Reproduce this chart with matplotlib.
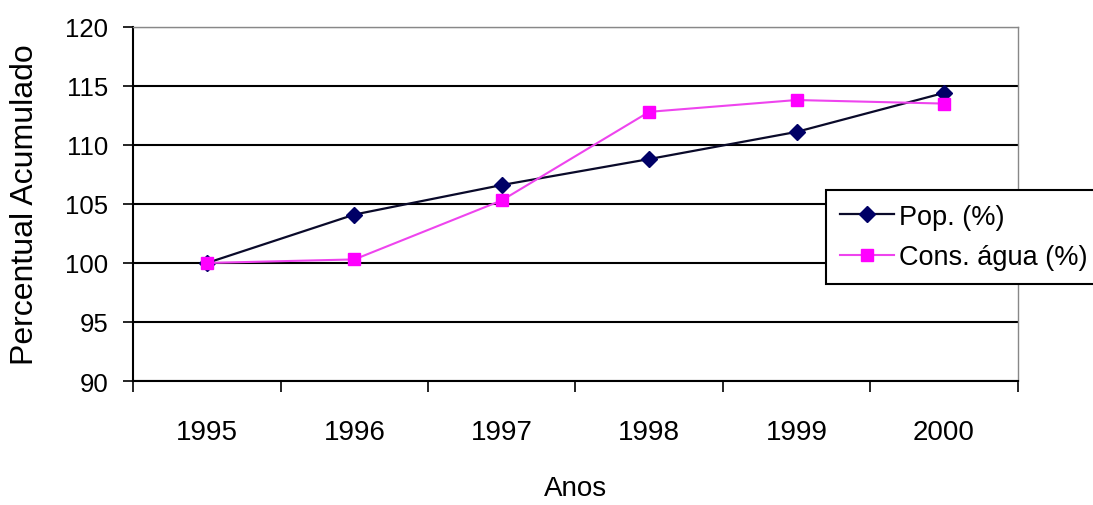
import numpy as np
import matplotlib.pyplot as plt

plt.rcParams['font.family'] = ['Liberation Sans', 'DejaVu Sans']

anos = ['1995', '1996', '1997', '1998', '1999', '2000']
pop = [100.0, 104.1, 106.6, 108.8, 111.1, 114.4]
cons_agua = [100.0, 100.3, 105.3, 112.8, 113.8, 113.5]

fig = plt.figure(figsize=(10.93, 5.06), dpi=100)
ax = fig.add_axes([0.122, 0.245, 0.809, 0.700])

x = np.arange(len(anos))
ax.plot(x, pop, color='#0a0a2a', lw=1.6, marker='D', ms=8,
        mfc='#000066', mec='#000066', label='Pop. (%)', zorder=3)
ax.plot(x, cons_agua, color='#ee44ee', lw=1.5, marker='s', ms=9,
        mfc='#ff00ff', mec='#ff00ff', label='Cons. água (%)', zorder=3)

ax.set_xlim(-0.5, len(anos) - 0.5)
ax.set_ylim(90, 120)
ax.set_yticks(np.arange(90, 121, 5))
ax.grid(axis='y', color='black', lw=1.5)
ax.set_axisbelow(True)

# category labels centred, tick marks between categories
ax.set_xticks(x)
ax.set_xticklabels(anos)
ax.set_xticks(np.arange(-0.5, len(anos)), minor=True)
ax.tick_params(axis='x', which='major', length=0, pad=27, labelsize=20)
ax.tick_params(axis='x', which='minor', length=8, width=1.2, direction='out')
ax.tick_params(axis='y', length=7, width=1.2, labelsize=18.5, pad=11)

for s in ['left', 'bottom']:
    ax.spines[s].set_color('black')
    ax.spines[s].set_linewidth(1.5)
for s in ['top', 'right']:
    ax.spines[s].set_color('#888888')
    ax.spines[s].set_linewidth(1.0)

ax.set_xlabel('Anos', fontsize=20, labelpad=22)
ax.set_ylabel('Percentual Acumulado', fontsize=23, labelpad=18)

leg = ax.legend(loc='upper left', bbox_to_anchor=(826 / 1093, 1 - 191 / 506),
                bbox_transform=fig.transFigure, fontsize=19.5, frameon=True,
                fancybox=False, borderaxespad=0, handlelength=2.0,
                handletextpad=0.2, borderpad=0.5, labelspacing=0.55)
leg.get_frame().set_edgecolor('black')
leg.get_frame().set_linewidth(1.5)
leg.get_frame().set_alpha(1)

fig.savefig('out.png', dpi=100)
